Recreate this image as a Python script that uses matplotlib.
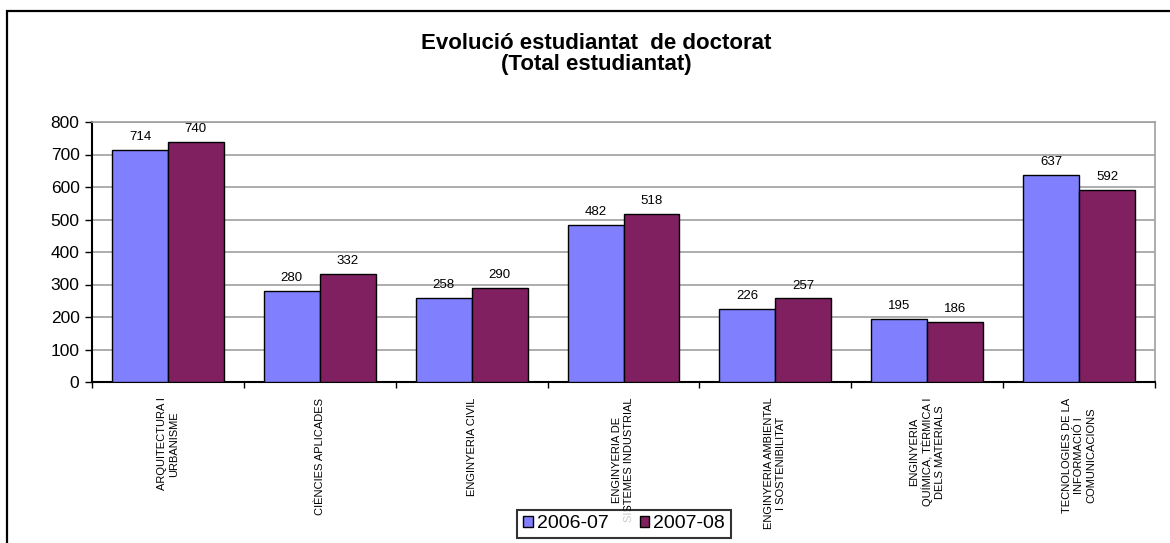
import matplotlib
matplotlib.use('Agg')
import numpy as np
import matplotlib.pyplot as plt
from matplotlib.patches import Rectangle

categories = ['ARQUITECTURA I\nURBANISME',
              'CIÈNCIES APLICADES',
              'ENGINYERIA CIVIL',
              'ENGINYERIA DE\nSISTEMES INDUSTRIAL',
              'ENGINYERIA AMBIENTAL\nI SOSTENIBILITAT',
              'ENGINYERIA\nQUÍMICA, TÈRMICA I\nDELS MATERIALS',
              'TECNOLOGIES DE LA\nINFORMACIÓ I\nCOMUNICACIONS']
series_names = ['2006-07', '2007-08']
values_0607 = [714, 280, 258, 482, 226, 195, 637]
values_0708 = [740, 332, 290, 518, 257, 186, 592]
yticks = [0, 100, 200, 300, 400, 500, 600, 700, 800]

colors = ['#8080FF', '#802060']

plt.rcParams['font.family'] = ['Liberation Sans', 'DejaVu Sans']

W, H = 1170, 543
fig = plt.figure(figsize=(W / 100, H / 100), dpi=100)

# outer chart frame (right / bottom edges fall outside the picture)
fig.patches.append(Rectangle((7 / W, -0.1), 1.2, 1 - 11 / H + 0.1, transform=fig.transFigure,
                             fill=False, edgecolor='black', linewidth=1.6, zorder=0))

ax = fig.add_axes([92 / W, 1 - 382 / H, (1155 - 92) / W, (382 - 122) / H])

x = np.arange(len(categories))
bw = 0.368
b1 = ax.bar(x - bw / 2, values_0607, bw, color=colors[0], edgecolor='black', linewidth=1.0, zorder=3, label=series_names[0])
b2 = ax.bar(x + bw / 2, values_0708, bw, color=colors[1], edgecolor='black', linewidth=1.0, zorder=3, label=series_names[1])

for bars in (b1, b2):
    for rect in bars:
        ax.annotate(str(int(rect.get_height())), (rect.get_x() + rect.get_width() / 2, rect.get_height()),
                    xytext=(0, 5), textcoords='offset points', ha='center', va='bottom', fontsize=9.5)

ax.set_xlim(-0.5, len(categories) - 0.5)
ax.set_ylim(0, 800)
ax.set_yticks(yticks)
ax.tick_params(axis='y', labelsize=12.5, length=5, width=1, direction='out', pad=4)
ax.set_xticks(np.arange(len(categories) + 1) - 0.5)
ax.set_xticklabels([])
ax.tick_params(axis='x', length=4, width=1, direction='out')

ax.grid(axis='y', color='#A0A0A0', linewidth=1.2, zorder=0)
ax.set_axisbelow(True)
for side in ('top', 'right'):
    ax.spines[side].set_color('#A0A0A0')
    ax.spines[side].set_linewidth(1.2)
for side in ('left', 'bottom'):
    ax.spines[side].set_color('black')
    ax.spines[side].set_linewidth(1.5)

# category labels, rotated, hanging below the axis
for i, cat in enumerate(categories):
    ax.text(i, -0.06, cat, transform=ax.get_xaxis_transform(), rotation=90, ha='center', va='top',
            multialignment='center', fontsize=8, linespacing=1.25, zorder=2, clip_on=False)

fig.text(596 / W, 1 - 33 / H, 'Evolució estudiantat  de doctorat\n(Total estudiantat)', ha='center', va='top',
         fontsize=16, fontweight='bold', linespacing=1.0)

leg = ax.legend(loc='center', bbox_to_anchor=(624 / W, 1 - 524 / H), bbox_transform=fig.transFigure,
                ncol=2, fontsize=14, frameon=True, fancybox=False, handlelength=0.5, handleheight=0.5,
                handletextpad=0.2, columnspacing=1.6, borderpad=0.3, borderaxespad=0)
leg.get_frame().set_edgecolor('black')
leg.get_frame().set_linewidth(1.5)
leg.set_zorder(10)

fig.savefig('out.png', dpi=100, facecolor='white')
